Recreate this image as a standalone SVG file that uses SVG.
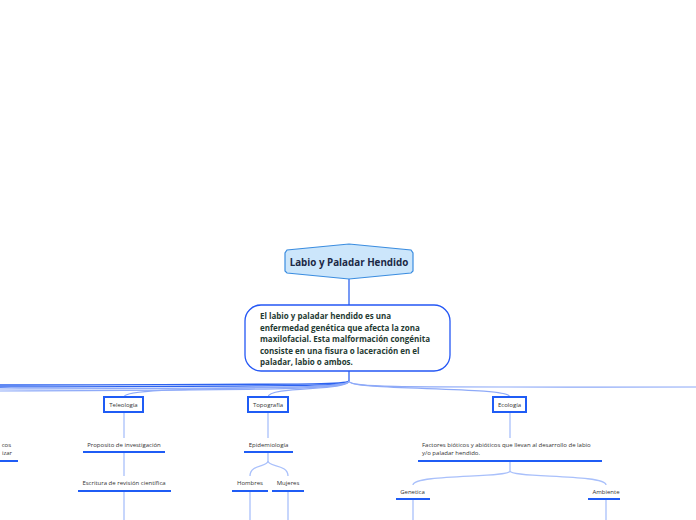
<svg xmlns="http://www.w3.org/2000/svg" width="696" height="520" viewBox="0 0 696 520">
<style>
.sm{font-family:"Open Sans","Noto Sans",sans-serif;font-size:6px;fill:#333333}
.c{text-anchor:middle}
.ul{stroke:#1f5cf5;stroke-width:2;fill:none}
.cd{stroke:#2d63f0;stroke-width:1.3;fill:none}
.cl{stroke:#8eaaf8;stroke-width:1.2;fill:none}
.cv{stroke:#a9c0fb;stroke-width:1.3;fill:none}
.bx{fill:#ffffff;stroke:#1f5cf5;stroke-width:2}
</style>
<rect width="696" height="520" fill="#ffffff"/>
<g id="connectors">
<path class="cd" d="M349,279 L349,305"/>
<path class="cd" d="M349,371 L349,381"/>
<path class="cd" d="M349,381 C349,386 330,386 0,387"/>
<path class="cd" d="M349,381 C346,385 300,384 0,385"/>
<path class="cl" d="M349,381 C349,388 300,388 0,389"/>
<path class="cl" d="M349,381 C349,390 250,390 0,391"/>
<path class="cl" d="M349,381 C349,392 124,384 124,397"/>
<path class="cl" d="M349,381 C349,391 268,386 268,397"/>
<path class="cl" d="M349,381 C349,391 510,386 510,397"/>
<path class="cl" d="M349,381 C349,388 400,387 696,387"/>
<path class="cv" d="M124,412 L124,438"/>
<path class="cv" d="M124,453 L124,476"/>
<path class="cv" d="M124,491 L124,520"/>
<path class="cv" d="M268,412 L268,438"/>
<path class="cv" d="M268,453 L268,461 C268,467 250,464 250,476"/>
<path class="cv" d="M268,461 C268,467 288,464 288,476"/>
<path class="cv" d="M250,491 L250,520"/>
<path class="cv" d="M288,491 L288,520"/>
<path class="cv" d="M510,412 L510,438"/>
<path class="cv" d="M510,462 L510,471 C510,478 413,474 413,485"/>
<path class="cv" d="M510,471 C510,478 606,474 606,485"/>
<path class="cv" d="M413,500 L413,520"/>
<path class="cv" d="M606,500 L606,520"/>
</g>
<g id="root">
<polygon points="349,244 411,250 413,253 413,271 411,273 349,279 287,273 285,271 285,253 287,250" fill="#cce6fb" stroke="#3b8de0" stroke-width="1.2"/>
<text x="349" y="265.5" text-anchor="middle" font-family="'Open Sans','Noto Sans',sans-serif" font-size="9.8" font-weight="bold" fill="#1b2845">Labio y Paladar Hendido</text>
</g>
<g id="description">
<rect x="245" y="305" width="205" height="66" rx="16" ry="16" fill="#ffffff" stroke="#2457f5" stroke-width="1.3"/>
<text font-family="'Open Sans','Noto Sans',sans-serif" font-size="8" font-weight="bold" fill="#1f3b33">
<tspan x="260" y="318.5">El labio y paladar hendido es una</tspan>
<tspan x="260" y="330.5">enfermedad genética que afecta la zona</tspan>
<tspan x="260" y="342">maxilofacial. Esta malformación congénita</tspan>
<tspan x="260" y="353.5">consiste en una fisura o laceración en el</tspan>
<tspan x="260" y="365">paladar, labio o ambos.</tspan>
</text>
</g>
<g id="offscreen-left">
<text class="sm" x="11" y="447" text-anchor="end">cos</text>
<text class="sm" x="12" y="455" text-anchor="end">izar</text>
<path class="ul" d="M0,461 L18,461"/>
</g>
<g id="teleologia">
<rect class="bx" x="104" y="397" width="39" height="15"/>
<text class="sm c" x="123.5" y="406.5">Teleología</text>
</g>
<g id="proposito">
<text class="sm c" x="124" y="447">Proposito de investigación</text>
<path class="ul" d="M83,452 L165,452"/>
</g>
<g id="escritura">
<text class="sm c" x="124" y="485">Escritura de revisión científica</text>
<path class="ul" d="M78,491 L171,491"/>
</g>
<g id="topografia">
<rect class="bx" x="248" y="397" width="40" height="15"/>
<text class="sm c" x="268" y="406.5">Topografía</text>
</g>
<g id="epidemiologia">
<text class="sm c" x="268.5" y="447">Epidemiología</text>
<path class="ul" d="M244,452 L293,452"/>
</g>
<g id="hombres">
<text class="sm c" x="250" y="485">Hombres</text>
<path class="ul" d="M232,491 L268,491"/>
</g>
<g id="mujeres">
<text class="sm c" x="288" y="485">Mujeres</text>
<path class="ul" d="M272,491 L304,491"/>
</g>
<g id="ecologia">
<rect class="bx" x="493" y="397" width="33" height="15"/>
<text class="sm c" x="509.5" y="406.5">Ecología</text>
</g>
<g id="factores">
<text class="sm"><tspan x="422" y="447">Factores bióticos y abióticos que llevan al desarrollo de labio</tspan><tspan x="422" y="455">y/o paladar hendido.</tspan></text>
<path class="ul" d="M418,461 L602,461"/>
</g>
<g id="genetica">
<text class="sm c" x="412.5" y="494">Genetica</text>
<path class="ul" d="M396,499 L430,499"/>
</g>
<g id="ambiente">
<text class="sm c" x="606" y="494">Ambiente</text>
<path class="ul" d="M588,499 L620,499"/>
</g>
</svg>
